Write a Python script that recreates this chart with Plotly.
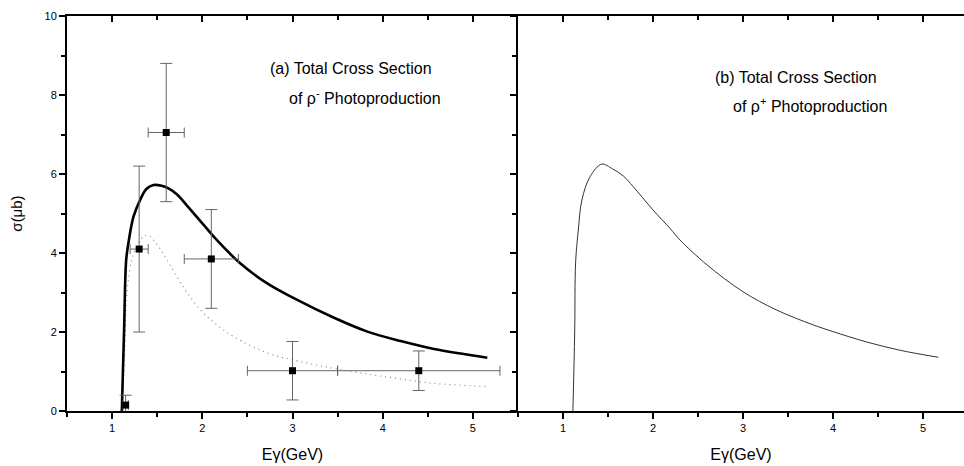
import plotly.graph_objects as go

# ---- data ----
exp_E = [1.15, 1.30, 1.60, 2.10, 3.00, 4.40]
exp_sigma = [0.15, 4.10, 7.05, 3.85, 1.02, 1.02]
exp_dsigma = [0.25, 2.10, 1.75, 1.25, 0.74, 0.50]
exp_dE = [0.03, 0.10, 0.20, 0.30, 0.50, 0.90]

solid_E = [1.108, 1.12, 1.133, 1.156, 1.18, 1.237, 1.31, 1.38, 1.46, 1.55, 1.62, 1.72,
           1.83, 1.96, 2.16, 2.42, 2.72, 3.02, 3.46, 3.83, 4.2, 4.57, 5.16]
solid_sigma = [0.0, 1.0, 2.05, 3.82, 4.24, 4.92, 5.34, 5.62, 5.72, 5.70, 5.64, 5.48,
               5.2, 4.86, 4.33, 3.74, 3.23, 2.85, 2.36, 2.01, 1.77, 1.57, 1.35]

dot_E = [1.11, 1.14, 1.16, 1.18, 1.22, 1.28, 1.35, 1.40, 1.45, 1.52, 1.61, 1.80, 1.98,
         2.15, 2.35, 2.72, 3.09, 3.50, 4.02, 4.57, 5.14]
dot_sigma = [0.0, 1.5, 2.9, 3.3, 3.85, 4.2, 4.42, 4.45, 4.35, 4.15, 3.82, 3.1, 2.56,
             2.2, 1.88, 1.47, 1.25, 1.06, 0.87, 0.70, 0.62]

plus_E = [1.11, 1.13, 1.14, 1.17, 1.21, 1.30, 1.43, 1.55, 1.67, 1.78, 2.0, 2.19, 2.3,
          2.6, 3.0, 3.37, 3.78, 4.0, 4.37, 4.74, 5.17]
plus_sigma = [0.0, 2.0, 3.75, 4.58, 5.34, 5.93, 6.25, 6.13, 5.95, 5.68, 5.09, 4.62, 4.33,
              3.70, 3.02, 2.56, 2.18, 2.01, 1.75, 1.54, 1.36]

x_ticks = [1, 2, 3, 4, 5]
y_ticks = [0, 2, 4, 6, 8, 10]

FONT = "Liberation Sans, Arial, sans-serif"
W, H = 964, 466
ml, mr, mt, mb = 67, 0, 16, 55
split = (518 - ml) / (W - ml - mr)

fig = go.Figure()

fig.add_trace(go.Scatter(x=dot_E, y=dot_sigma, mode="lines", line_shape="spline",
                         line=dict(color="#8a8a8a", width=1.2, dash="1px,4px"),
                         xaxis="x", yaxis="y", showlegend=False))
fig.add_trace(go.Scatter(x=solid_E, y=solid_sigma, mode="lines", line_shape="spline",
                         line=dict(color="black", width=2.6),
                         xaxis="x", yaxis="y", showlegend=False))
fig.add_trace(go.Scatter(x=exp_E, y=exp_sigma, mode="markers",
                         marker=dict(symbol="square", size=7, color="black"),
                         error_y=dict(type="data", array=exp_dsigma, color="#666666",
                                      thickness=1, width=6),
                         error_x=dict(type="data", array=exp_dE, color="#666666",
                                      thickness=1, width=5),
                         xaxis="x", yaxis="y", showlegend=False))
fig.add_trace(go.Scatter(x=plus_E, y=plus_sigma, mode="lines", line_shape="spline",
                         line=dict(color="#333333", width=1),
                         xaxis="x2", yaxis="y2", showlegend=False))
# dummy traces to activate overlay axes for inside top ticks
fig.add_trace(go.Scatter(x=[None], y=[None], xaxis="x3", yaxis="y", showlegend=False,
                         hoverinfo="skip"))
fig.add_trace(go.Scatter(x=[None], y=[None], xaxis="x4", yaxis="y2", showlegend=False,
                         hoverinfo="skip"))

xr1 = [0.5, 5.5]
xr2 = [0.5, 0.5 + (W - 518) / 90.0]

common_x = dict(showline=True, linecolor="black", linewidth=2, showgrid=False,
                zeroline=False, tickmode="array", tickvals=x_ticks,
                tickfont=dict(family=FONT, size=11, color="black"),
                ticks="outside", ticklen=6, tickwidth=2, tickcolor="black",
                minor=dict(dtick=0.5, tick0=0.5, ticks="outside", ticklen=4,
                           tickwidth=2, tickcolor="black"))

top_x = dict(showline=False, showgrid=False, zeroline=False, tickmode="array",
             tickvals=x_ticks, showticklabels=False, ticks="inside", ticklen=6,
             tickwidth=2, tickcolor="black",
             minor=dict(dtick=0.5, tick0=0.5, ticks="inside", ticklen=4, tickwidth=2,
                        tickcolor="black"))

fig.update_layout(
    width=W, height=H,
    margin=dict(l=ml, r=mr, t=mt, b=mb),
    paper_bgcolor="white", plot_bgcolor="white",
    font=dict(family=FONT, color="black"),
    xaxis=dict(domain=[0, split], range=xr1, anchor="y",
               title=dict(text="Eγ(GeV)", font=dict(family=FONT, size=16), standoff=16),
               mirror=True, **common_x),
    xaxis2=dict(domain=[split, 1], range=xr2, anchor="y2",
                title=dict(text="Eγ(GeV)", font=dict(family=FONT, size=16), standoff=16),
                mirror=True, **common_x),
    xaxis3=dict(overlaying="x", side="top", anchor="y", range=xr1, **top_x),
    xaxis4=dict(overlaying="x2", side="top", anchor="y2", range=xr2, **top_x),
    yaxis=dict(domain=[0, 1], range=[0, 10], anchor="x",
               showline=True, linecolor="black", linewidth=2, mirror=False,
               showgrid=False, zeroline=False, tickmode="array", tickvals=y_ticks,
               tickfont=dict(family=FONT, size=11, color="black"),
               ticks="outside", ticklen=6, tickwidth=2, tickcolor="black",
               minor=dict(dtick=1, tick0=1, ticks="outside", ticklen=4, tickwidth=2,
                          tickcolor="black"),
               title=dict(text="σ(μb)", font=dict(family=FONT, size=15), standoff=18)),
    yaxis2=dict(domain=[0, 1], range=[0, 10], anchor="x2",
                showline=True, linecolor="black", linewidth=2,
                showgrid=False, zeroline=False, tickmode="array", tickvals=y_ticks,
                showticklabels=False,
                ticks="outside", ticklen=6, tickwidth=2, tickcolor="black",
                minor=dict(dtick=1, tick0=1, ticks="outside", ticklen=4, tickwidth=2,
                           tickcolor="black")),
)

ann_font = dict(family=FONT, size=16, color="black")
fig.add_annotation(x=2.733, y=8.68, xref="x", yref="y", xanchor="left", yanchor="middle",
                   text="(a) Total Cross Section", showarrow=False, font=ann_font)
fig.add_annotation(x=2.944, y=7.94, xref="x", yref="y", xanchor="left", yanchor="middle",
                   text="of ρ<sup>-</sup> Photoproduction", showarrow=False, font=ann_font)
fig.add_annotation(x=2.667, y=8.45, xref="x2", yref="y2", xanchor="left", yanchor="middle",
                   text="(b) Total Cross Section", showarrow=False, font=ann_font)
fig.add_annotation(x=2.867, y=7.75, xref="x2", yref="y2", xanchor="left", yanchor="middle",
                   text="of ρ<sup>+</sup> Photoproduction", showarrow=False, font=ann_font)

fig.write_html("out.html")
